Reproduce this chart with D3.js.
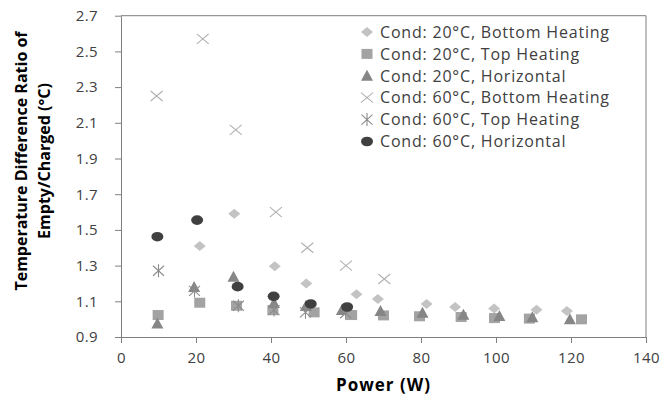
<!DOCTYPE html>
<html><head><meta charset="utf-8">
<script src="https://cdn.jsdelivr.net/npm/d3@7"></script>
<style>body{margin:0;background:#fff}svg text{font-family:"Open Sans",sans-serif}</style>
</head><body><svg id="c" width="664" height="406"></svg>
<script>
const seriesNames = ["Cond: 20°C, Bottom Heating","Cond: 20°C, Top Heating","Cond: 20°C, Horizontal","Cond: 60°C, Bottom Heating","Cond: 60°C, Top Heating","Cond: 60°C, Horizontal"];
const b20 = [[21,1.41],[30.2,1.59],[41,1.296],[49.4,1.20],[62.8,1.14],[68.5,1.113],[81.5,1.085],[89.1,1.068],[99.5,1.06],[110.8,1.053],[118.9,1.046]];
const t20 = [[9.9,1.023],[21,1.092],[30.8,1.075],[40.5,1.05],[51.5,1.038],[61.5,1.023],[70,1.021],[79.6,1.016],[90.7,1.012],[99.6,1.006],[108.9,1.003],[122.8,0.999]];
const h20 = [[9.7,0.975],[19.5,1.18],[30,1.238],[40.8,1.09],[49.3,1.074],[58.9,1.051],[69.2,1.046],[80.4,1.036],[91.3,1.025],[100.9,1.018],[109.7,1.01],[119.7,1.0]];
const b60 = [[9.5,2.25],[21.8,2.57],[30.6,2.06],[41.3,1.60],[49.7,1.40],[60,1.30],[70.2,1.225]];
const t60 = [[10,1.271],[19.6,1.158],[31.3,1.075],[40.8,1.051],[49.2,1.038],[59.9,1.033]];
const h60 = [[9.7,1.462],[20.3,1.555],[31.1,1.182],[40.7,1.128],[50.6,1.085],[60.3,1.068]];
const xTicks = [0,20,40,60,80,100,120,140];
const yTicks = [0.9,1.1,1.3,1.5,1.7,1.9,2.1,2.3,2.5,2.7];

const svg = d3.select("#c");
const L=121,R=646,T=15.7,B=337;
const x = d3.scaleLinear().domain([0,140]).range([L,R]);
const y = d3.scaleLinear().domain([0.9,2.7]).range([B,T]);
const axisCol="#7f7f7f", txtCol="#404040";

// frame
svg.append("line").attr("x1",L).attr("x2",R).attr("y1",T).attr("y2",T).attr("stroke",axisCol);
svg.append("line").attr("x1",R).attr("x2",R).attr("y1",T).attr("y2",B).attr("stroke",axisCol);

const gx = svg.append("g").attr("transform",`translate(0,${B})`)
  .call(d3.axisBottom(x).tickValues(xTicks).tickSize(6).tickSizeOuter(0).tickPadding(9));
const gy = svg.append("g").attr("transform",`translate(${L},0)`)
  .call(d3.axisLeft(y).tickValues(yTicks).tickSize(6).tickSizeOuter(0).tickPadding(17).tickFormat(d3.format(".1f")));
[gx,gy].forEach(g=>{
  g.selectAll("path,line").attr("stroke",axisCol);
  g.selectAll("text").attr("fill",txtCol).style("font-size","15px").style("letter-spacing","0.4px");
});

const styles = [
  {d:b20, type:"diamond", fill:"#c3c3c3"},
  {d:t20, type:"square", fill:"#a3a3a3"},
  {d:h20, type:"triangle", fill:"#868686"},
  {d:b60, type:"x", stroke:"#b0b0b0"},
  {d:t60, type:"star", stroke:"#8c8c8c"},
  {d:h60, type:"circle", fill:"#404040"}
];
function marker(g, s){
  if(s.type==="diamond") g.append("path").attr("d","M0,-5L6,0L0,5L-6,0Z").attr("fill",s.fill);
  else if(s.type==="square") g.append("rect").attr("x",-5.5).attr("y",-5).attr("width",11).attr("height",10).attr("fill",s.fill);
  else if(s.type==="triangle") g.append("path").attr("d","M0,-6L6,5L-6,5Z").attr("fill",s.fill);
  else if(s.type==="x") g.append("path").attr("d","M-6,-5L6,5M-6,5L6,-5").attr("stroke",s.stroke).attr("stroke-width",1.1).attr("fill","none");
  else if(s.type==="star") g.append("path").attr("d","M-5.5,-5L5.5,5M-5.5,5L5.5,-5M0,-6.5L0,6.5").attr("stroke",s.stroke).attr("stroke-width",1.1).attr("fill","none");
  else if(s.type==="circle") g.append("ellipse").attr("rx",6).attr("ry",4.8).attr("fill",s.fill);
}
styles.forEach(s=>{
  svg.append("g").selectAll("g").data(s.d).join("g")
    .attr("transform",d=>`translate(${x(d[0])},${y(d[1])})`)
    .each(function(){marker(d3.select(this),s);});
});

// legend
const lg = svg.append("g");
seriesNames.forEach((n,i)=>{
  const yy = 32 + i*21.9;
  const g = lg.append("g").attr("transform",`translate(367,${yy})`);
  marker(g, styles[i]);
  lg.append("text").attr("x",380).attr("y",yy).attr("dy","0.36em").attr("fill",txtCol)
    .style("font-size","16px").style("letter-spacing","0.8px").text(n);
});

// axis titles
svg.append("text").attr("x",(L+R)/2).attr("y",391).attr("text-anchor","middle").attr("font-weight","bold").attr("fill","#000")
  .style("font-size","17px").style("letter-spacing","1px").text("Power (W)");
const yt = svg.append("text").attr("transform","translate(0,161) rotate(-90)").attr("text-anchor","middle").attr("font-weight","bold").attr("fill","#000").style("font-size","16px");
yt.append("tspan").attr("x",0).attr("y",27).text("Temperature Difference Ratio of");
yt.append("tspan").attr("x",0).attr("y",50).text("Empty/Charged (°C)");
</script></body></html>
